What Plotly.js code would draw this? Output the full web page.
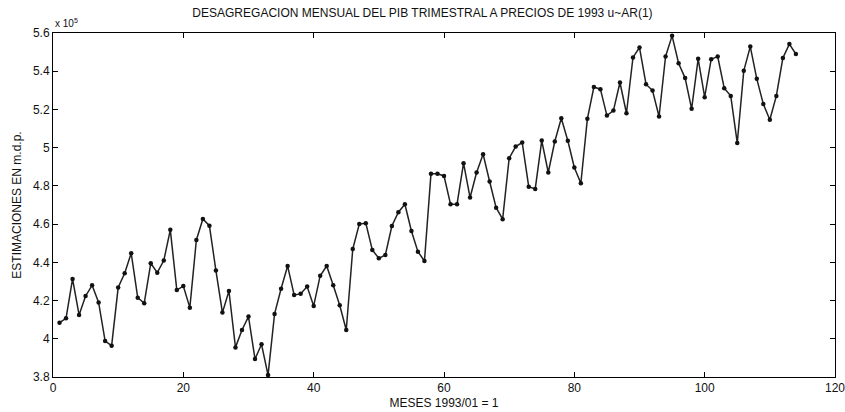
<!DOCTYPE html>
<html>
<head>
<meta charset="utf-8">
<script src="https://cdn.plot.ly/plotly-3.0.1.min.js"></script>
<style>html,body{margin:0;padding:0;background:#fff;}#chart{width:845px;height:412px;}</style>
</head>
<body>
<div id="chart"></div>
<script>
// Month index (1993/01 = 1)
const months = Array.from({length: 114}, (_, i) => i + 1);
// Monthly GDP estimates, in units of 1e5 (m.d.p.)
const estimates = [
  4.084, 4.107, 4.313, 4.125, 4.224, 4.280, 4.190, 3.988, 3.964, 4.268,
  4.343, 4.448, 4.215, 4.186, 4.395, 4.346, 4.409, 4.570, 4.255, 4.276,
  4.163, 4.517, 4.627, 4.592, 4.357, 4.137, 4.250, 3.955, 4.046, 4.116,
  3.894, 3.971, 3.810, 4.130, 4.262, 4.381, 4.229, 4.235, 4.273, 4.172,
  4.330, 4.381, 4.280, 4.175, 4.046, 4.470, 4.600, 4.605, 4.465, 4.421,
  4.439, 4.590, 4.662, 4.704, 4.564, 4.456, 4.407, 4.863, 4.863, 4.852,
  4.704, 4.704, 4.919, 4.739, 4.870, 4.966, 4.823, 4.686, 4.626, 4.945,
  5.006, 5.027, 4.796, 4.784, 5.037, 4.870, 5.032, 5.154, 5.036, 4.896,
  4.814, 5.151, 5.317, 5.306, 5.168, 5.194, 5.341, 5.180, 5.472, 5.524,
  5.332, 5.299, 5.163, 5.477, 5.585, 5.442, 5.364, 5.203, 5.465, 5.264,
  5.463, 5.477, 5.311, 5.271, 5.025, 5.402, 5.529, 5.360, 5.228, 5.146,
  5.271, 5.469, 5.542, 5.490
];
const xTicks = [0, 20, 40, 60, 80, 100, 120];
const yTicks = [3.8, 4, 4.2, 4.4, 4.6, 4.8, 5, 5.2, 5.4, 5.6];
const yTickText = ['3.8', '4', '4.2', '4.4', '4.6', '4.8', '5', '5.2', '5.4', '5.6'];

const font = {family: 'Liberation Sans, Arial, sans-serif', size: 12, color: '#111'};

Plotly.newPlot('chart', [{
  x: months,
  y: estimates,
  type: 'scatter',
  mode: 'lines+markers',
  line: {color: '#222', width: 1.5},
  marker: {color: '#111', size: 4.5},
  hoverinfo: 'x+y'
}], {
  width: 845, height: 412,
  margin: {l: 53, r: 10, t: 33, b: 35},
  paper_bgcolor: '#fff', plot_bgcolor: '#fff',
  showlegend: false,
  font: font,
  title: {text: 'DESAGREGACION MENSUAL DEL PIB TRIMESTRAL A PRECIOS DE 1993 u~AR(1)',
          font: {family: font.family, size: 12, color: '#111'}, x: 0.5, xanchor: 'center', y: 0.97, yanchor: 'middle'},
  xaxis: {
    range: [0, 120], tickvals: xTicks, ticktext: xTicks.map(String),
    ticks: 'inside', ticklen: 5, tickcolor: '#000', mirror: 'ticks',
    showline: true, linecolor: '#000', linewidth: 1, showgrid: false, zeroline: false,
    tickfont: font, automargin: false, ticklabeloverflow: 'allow',
    title: {text: 'MESES 1993/01 = 1', font: font, standoff: 4}
  },
  yaxis: {
    range: [3.8, 5.6], tickvals: yTicks, ticktext: yTickText,
    ticks: 'inside', ticklen: 5, tickcolor: '#000', mirror: 'ticks',
    showline: true, linecolor: '#000', linewidth: 1, showgrid: false, zeroline: false,
    tickfont: font,
    title: {text: 'ESTIMACIONES EN m.d.p.', font: font, standoff: 8}
  },
  annotations: [{
    text: 'x 10<sup>5</sup>', xref: 'paper', yref: 'paper', x: 0, y: 1, xanchor: 'left', yanchor: 'bottom',
    yshift: 2, showarrow: false, font: {family: font.family, size: 10, color: '#111'}
  }]
}, {displayModeBar: false, staticPlot: true});
</script>
</body>
</html>
